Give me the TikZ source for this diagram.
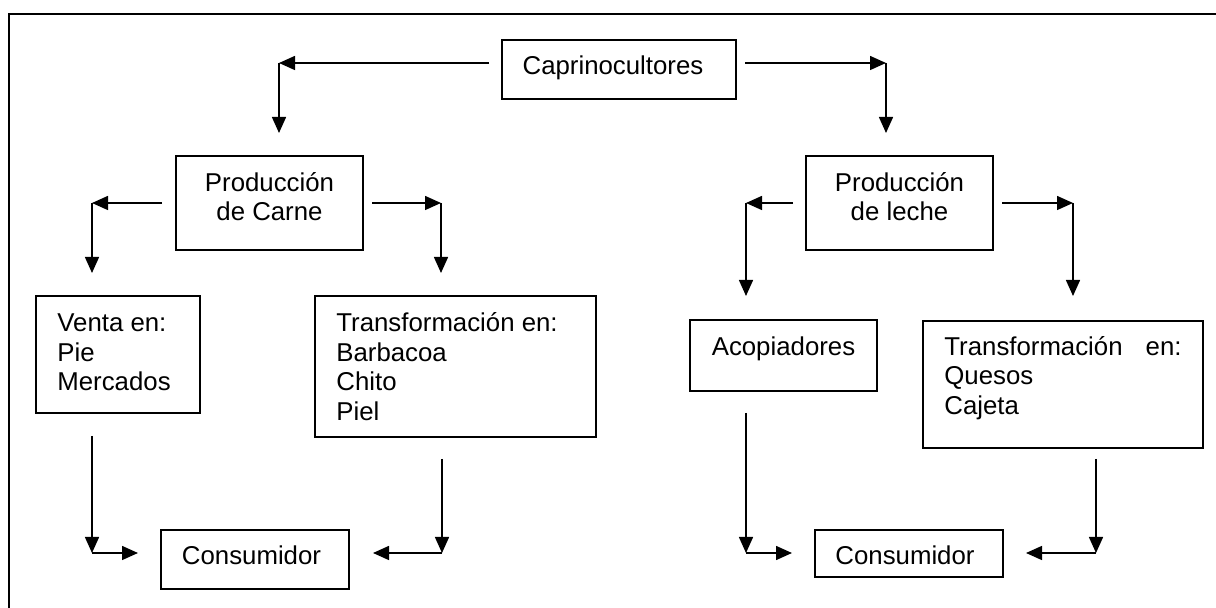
\documentclass[tikz,border=0pt]{standalone}
\usepackage{fontspec}
\setmainfont{Liberation Sans}
\usetikzlibrary{arrows.meta}
\begin{document}
\begin{tikzpicture}[x=0.5pt,y=-0.5pt,
  box/.style={draw, line width=0.8pt, inner sep=0pt},
  txt/.style={inner sep=0pt, font=\fontsize{12.9}{15}\selectfont},
  arr/.style={line width=0.75pt, -{Triangle[length=8pt,width=7pt]}},
  frame/.style={line width=1.1pt}]
\useasboundingbox (0,0) rectangle (1216,608);
% outer frame (only top and left visible)
\draw[frame] (9,608) -- (9,14) -- (1216,14);
% boxes
\node[box, minimum width=117pt, minimum height=29.5pt] (capr) at (619,69.5) {};
\node[box, minimum width=93.5pt, minimum height=47pt] (pc) at (269.5,203) {};
\node[box, minimum width=93.5pt, minimum height=47pt] (pl) at (899.5,203) {};
\node[box, minimum width=82pt, minimum height=58.5pt] (venta) at (118,354.5) {};
\node[box, minimum width=140.5pt, minimum height=70.5pt] (tc) at (455.5,366.5) {};
\node[box, minimum width=93.5pt, minimum height=35.5pt] (acop) at (783.5,355.5) {};
\node[box, minimum width=140pt, minimum height=63.5pt] (tl) at (1063,384.5) {};
\node[box, minimum width=94pt, minimum height=29.5pt] (cons1) at (255,559.5) {};
\node[box, minimum width=94pt, minimum height=23.5pt] (cons2) at (909,553.5) {};
% texts
\node[txt, anchor=base] (tcapr) at (613,75) {Caprinocultores};
\node[txt, anchor=base] (tpc1) at (269.5,192) {Producción};
\node[txt, anchor=base] (tpc2) at (269.5,221) {de Carne};
\node[txt, anchor=base] (tpl1) at (899.5,192) {Producción};
\node[txt, anchor=base] (tpl2) at (899.5,221) {de leche};
\node[txt, anchor=base west] (tv1) at (57,332) {Venta en:};
\node[txt, anchor=base west] (tv2) at (57,361.5) {Pie};
\node[txt, anchor=base west] (tv3) at (57,391) {Mercados};
\node[txt, anchor=base west] (tc1) at (336,332) {Transformación en:};
\node[txt, anchor=base west] (tc2) at (336,361.5) {Barbacoa};
\node[txt, anchor=base west] (tc3) at (336,391) {Chito};
\node[txt, anchor=base west] (tc4) at (336,420.5) {Piel};
\node[txt, anchor=base] (tacop) at (783.5,355.5) {Acopiadores};
\node[txt, anchor=base west] (tl1a) at (944,355.5) {Transformación};
\node[txt, anchor=base east] (tl1b) at (1182,355.5) {en:};
\node[txt, anchor=base west] (tl2) at (944,385) {Quesos};
\node[txt, anchor=base west] (tl3) at (944,414.5) {Cajeta};
\node[txt, anchor=base] (tcons1) at (251.5,565) {Consumidor};
\node[txt, anchor=base] (tcons2) at (905,565) {Consumidor};
% connector points
\coordinate (a1s) at (489,63);  \coordinate (a1c) at (279,63);  \coordinate (a1e) at (279,133);
\coordinate (a2s) at (745,63);  \coordinate (a2c) at (886,63);  \coordinate (a2e) at (886,133);
\coordinate (b1s) at (162,203); \coordinate (b1c) at (92,203);  \coordinate (b1e) at (92,273);
\coordinate (b2s) at (372,203); \coordinate (b2c) at (441,203); \coordinate (b2e) at (441,273);
\coordinate (c1s) at (793,203); \coordinate (c1c) at (746,203); \coordinate (c1e) at (746,296);
\coordinate (c2s) at (1002,203);\coordinate (c2c) at (1073,203);\coordinate (c2e) at (1073,296);
\coordinate (d1s) at (92,436);  \coordinate (d1c) at (92,553);  \coordinate (d1e) at (138,553);
\coordinate (d2s) at (442,459); \coordinate (d2c) at (442,553); \coordinate (d2e) at (373,553);
\coordinate (e1s) at (746,413); \coordinate (e1c) at (746,553); \coordinate (e1e) at (792,553);
\coordinate (e2s) at (1096,459);\coordinate (e2c) at (1096,553);\coordinate (e2e) at (1026,553);
% connectors
\foreach \p in {a1,a2,b1,b2,c1,c2,d1,d2,e1,e2}{
  \draw[arr] (\p s) -- (\p c);
  \draw[arr] (\p c) -- (\p e);
}
\end{tikzpicture}
\end{document}
